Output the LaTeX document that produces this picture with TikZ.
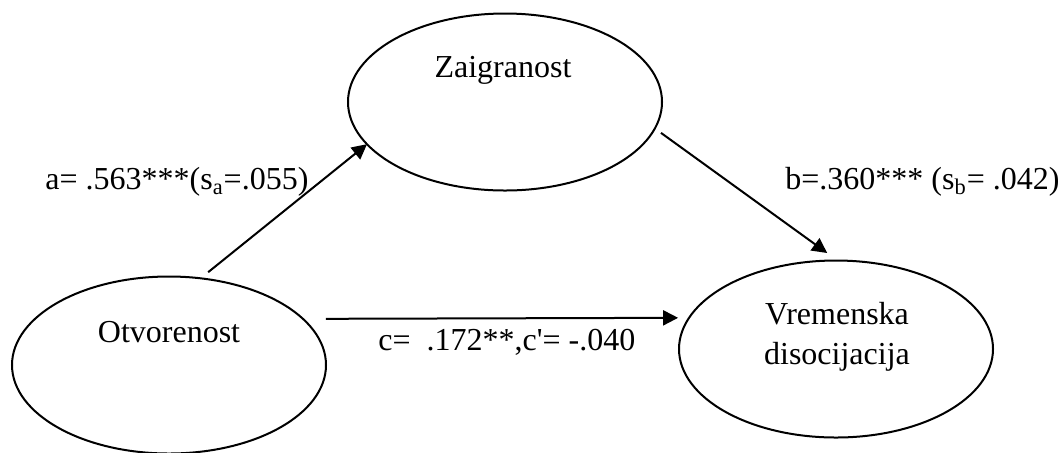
\documentclass[tikz,border=0pt]{standalone}
\usepackage{fontspec}
\setmainfont{Liberation Serif}[Ligatures=TeXOff]
\usetikzlibrary{arrows.meta,shapes.geometric}
\begin{document}
\begin{tikzpicture}[x=0.5pt,y=-0.5pt,
  var/.style={draw, ellipse, line width=1pt, minimum width=157pt, minimum height=88.5pt, inner sep=0pt, outer sep=0pt},
  lbl/.style={inner sep=0pt, font=\fontsize{16pt}{20pt}\selectfont},
  conn/.style={line width=1pt, -{Triangle[length=7.5pt,width=7.5pt]}}]
\useasboundingbox (0,0) rectangle (1064,452);
\node[var] (Z) at (505,102) {};
\node[var] (O) at (169,365) {};
\node[var] (V) at (836,349) {};
\node[lbl, anchor=base] (Zt) at (503,77) {Zaigranost};
\node[lbl, anchor=base] (Ot) at (169,342) {Otvorenost};
\node[lbl, anchor=base] (Vt1) at (837,324) {Vremenska};
\node[lbl, anchor=base] (Vt2) at (837,364) {disocijacija};
\draw[conn, shorten <=4.9pt] (O.70.7) -- (Z.197.1);
\draw[conn, shorten <=3.8pt, shorten >=6.4pt] (Z.350) -- (V.89.1);
\draw[conn, shorten <=11.5pt, shorten >=5.5pt] (O.19.46) -- (V.168.1);
\node[lbl, anchor=base west] (la) at (45,189) {a= .563***(s\textsubscript{a}=.055)};
\node[lbl, anchor=base west] (lb) at (785,189) {b=.360*** (s\textsubscript{b}= .042)};
\node[lbl, anchor=base west] (lc) at (378,350) {c=\ \ .172**,c'= -.040};
\end{tikzpicture}
\end{document}
